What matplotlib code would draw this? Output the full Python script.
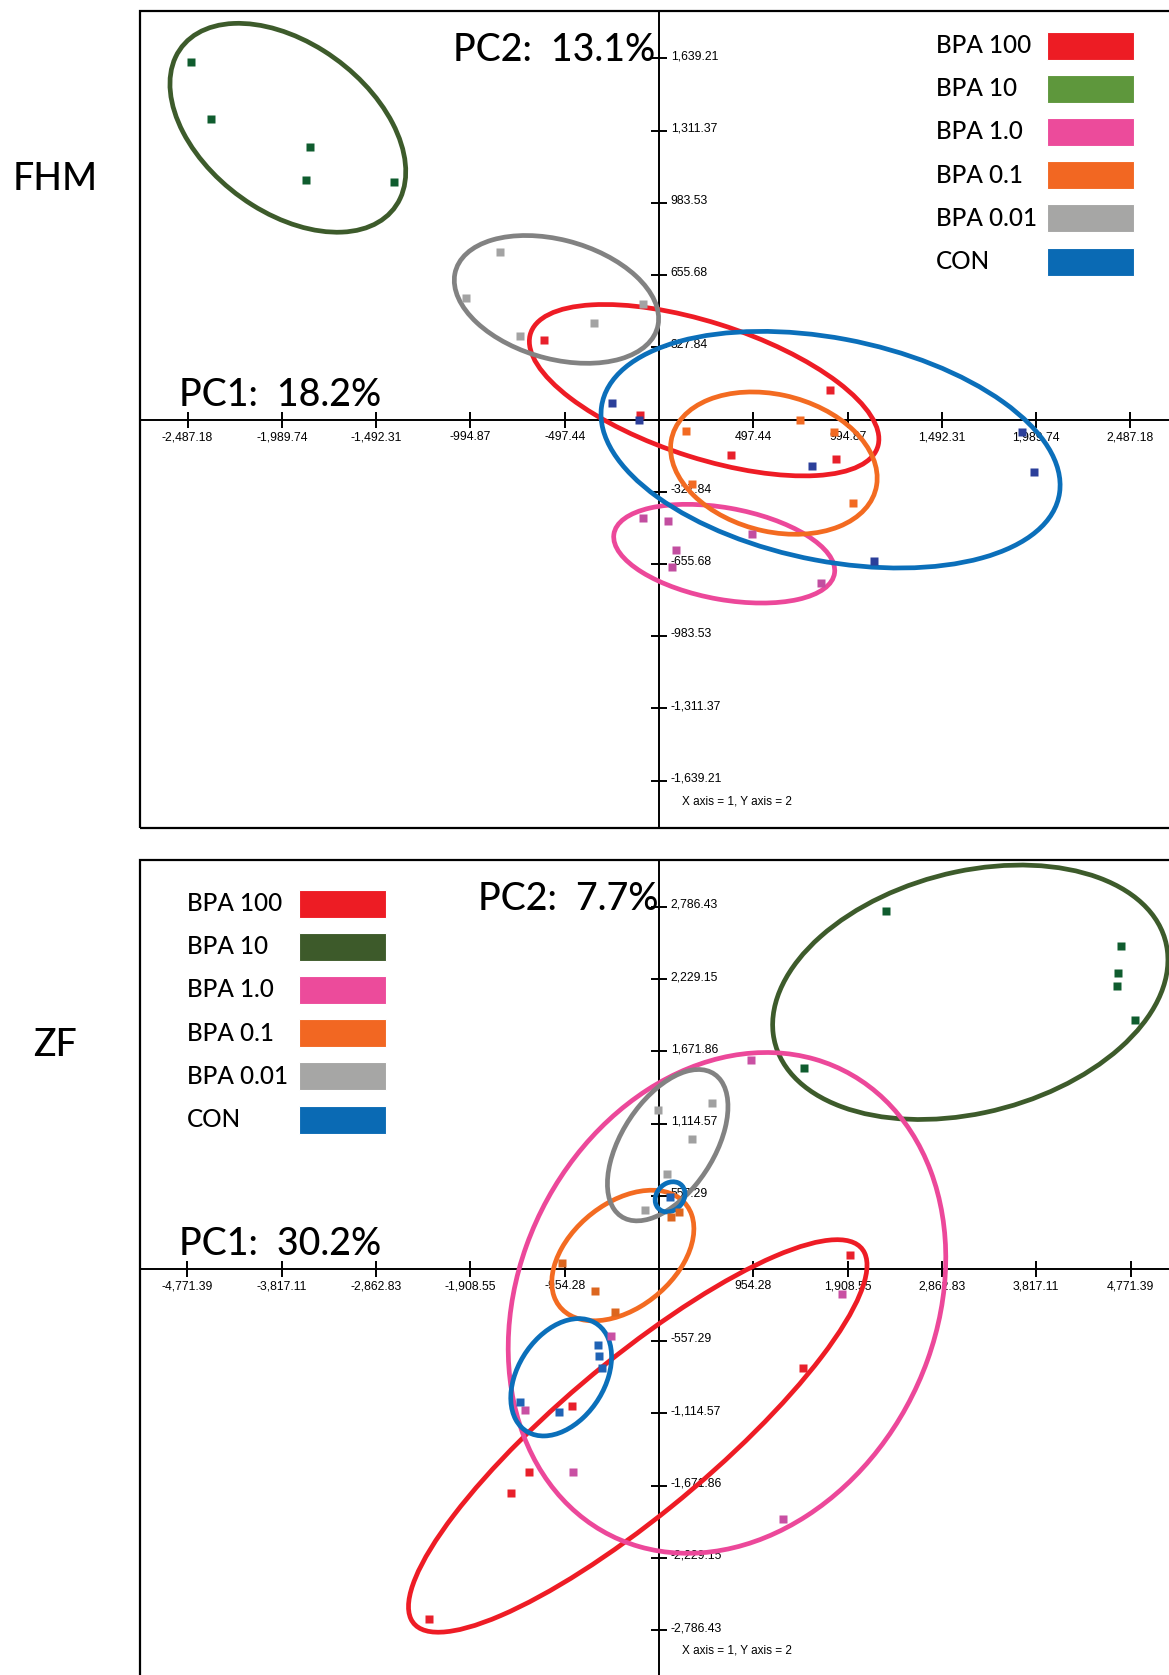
import numpy as np
import matplotlib
matplotlib.use('Agg')
import matplotlib.pyplot as plt
from matplotlib import font_manager
from matplotlib.patches import Ellipse, Rectangle
from matplotlib.transforms import ScaledTranslation


groups = ['BPA 100', 'BPA 10', 'BPA 1.0', 'BPA 0.1', 'BPA 0.01', 'CON']

# FHM scores (PC1, PC2)
fhm_pc1 = {
	'BPA 100': [-607, -98, 900, 382, 932],
	'BPA 10': [-2468, -2365, -1841, -1862, -1396],
	'BPA 1.0': [-82, 49, 489, 92, 70, 855],
	'BPA 0.1': [746, 145, 924, 174, 1022],
	'BPA 0.01': [-840, -1019, -733, -343, -83],
	'CON': [-249, -107, 808, 1916, 1979, 1135],
}
fhm_pc2 = {
	'BPA 100': [360, 21, 135, -159, -180],
	'BPA 10': [1621, 1364, 1238, 1089, 1077],
	'BPA 1.0': [-447, -459, -518, -591, -671, -741],
	'BPA 0.1': [-4, -52, -55, -291, -379],
	'BPA 0.01': [758, 552, 378, 438, 525],
	'CON': [75, 0, -211, -55, -239, -641],
}

# ZF scores (PC1, PC2)
zf_pc1 = {
	'BPA 100': [1934, 1455, -880, -1316, -1500, -2323],
	'BPA 10': [2302, 4679, 4644, 4632, 4813, 1467],
	'BPA 1.0': [930, 1851, -487, -1360, -866, 1259],
	'BPA 0.1': [204, 118, -978, -649, -444],
	'BPA 0.01': [537, -8, 330, 86, -143],
	'CON': [110, -620, -610, -581, -1403, -1017],
}
zf_pc2 = {
	'BPA 100': [107, -767, -1059, -1571, -1730, -2704],
	'BPA 10': [2756, 2481, 2280, 2180, 1916, 1544],
	'BPA 1.0': [1608, -193, -522, -1090, -1571, -1932],
	'BPA 0.1': [437, 393, 40, -172, -334],
	'BPA 0.01': [1276, 1220, 999, 727, 447],
	'CON': [552, -586, -674, -763, -1026, -1103],
}

# group ellipses: centre x, centre y, half-extent x, half-extent y, correlation
fhm_ellipses = {
	'BPA 100': (238, 133, 922, 389, -0.57),
	'BPA 10': (-1958, 1324, 622, 474, -0.42),
	'BPA 1.0': (344, -609, 583, 224, -0.34),
	'BPA 0.1': (606, -198, 545, 323, -0.21),
	'BPA 0.01': (-541, 545, 539, 290, -0.30),
	'CON': (905, -137, 1211, 537, -0.30),
}
zf_ellipses = [
	('BPA 100', (-215, -1290, 2320, 1512, 0.87)),
	('BPA 10', (3150, 2128, 2000, 980, 0.255)),
	('BPA 1.0', (688, -265, 2214, 1929, 0.18)),
	('BPA 0.1', (-366, 100, 719, 503, 0.41)),
	('BPA 0.01', (88, 950, 610, 583, 0.51)),
	('CON', (-990, -838, 510, 452, 0.35)),
	('CON', (112, 552, 151, 116, 0.2)),
]

fhm_xticks = [497.44, 994.87, 1492.31, 1989.74, 2487.18]
fhm_yticks = [327.84, 655.68, 983.53, 1311.37, 1639.21]
zf_xticks = [954.28, 1908.55, 2862.83, 3817.11, 4771.39]
zf_yticks = [557.29, 1114.57, 1671.86, 2229.15, 2786.43]

fhm_var = ('18.2%', '13.1%')
zf_var = ('30.2%', '7.7%')

legend_fhm = ['#ed1c24', '#5e973c', '#ec4b9b', '#f26722', '#a6a6a5', '#0a6ab4']
legend_zf = ['#ed1c24', '#3d5a2a', '#ec4b9b', '#f26722', '#a6a6a5', '#0a6ab4']
ring_colors = {'BPA 100': '#ee1c25', 'BPA 10': '#3d5b2b', 'BPA 1.0': '#ec489a',
	'BPA 0.1': '#f36b21', 'BPA 0.01': '#828282', 'CON': '#0b6fba'}
dot_fhm = {'BPA 100': '#e8202b', 'BPA 10': '#0f5c2e', 'BPA 1.0': '#c24ea0',
	'BPA 0.1': '#f26a22', 'BPA 0.01': '#a3a3a3', 'CON': '#2b3f9a'}
dot_zf = {'BPA 100': '#e8202b', 'BPA 10': '#0f5c2e', 'BPA 1.0': '#c950a3',
	'BPA 0.1': '#dc661f', 'BPA 0.01': '#a0a0a0', 'CON': '#1f63b5'}


installed = {f.name for f in font_manager.fontManager.ttflist}
small_font = 'Liberation Sans Narrow' if 'Liberation Sans Narrow' in installed else 'Liberation Sans'
big_font = 'Lato'
big_weight = 'medium'


def draw_ellipse(ax, params, color):
	cx, cy, hx, hy, rho = params
	cov = np.array([[hx * hx, rho * hx * hy], [rho * hx * hy, hy * hy]])
	vals, vecs = np.linalg.eigh(cov)
	angle = np.degrees(np.arctan2(vecs[1, 1], vecs[0, 1]))
	ax.add_patch(Ellipse((cx, cy), 2 * np.sqrt(vals[1]), 2 * np.sqrt(vals[0]), angle=angle,
		fill=False, edgecolor=color, lw=3.4, zorder=3))


def setup_axes(ax, xt, yt, xmax, ymax):
	ax.set_xlim(-xmax, xmax)
	ax.set_ylim(-ymax, ymax)
	for s in ['left', 'top']:
		ax.spines[s].set_visible(False)
	ax.spines['bottom'].set_position(('data', 0))
	ax.spines['right'].set_position(('data', 0))
	ax.spines['bottom'].set_linewidth(1.4)
	ax.spines['right'].set_linewidth(1.4)
	ax.yaxis.set_ticks_position('right')
	xs = [-v for v in xt[::-1]] + xt
	ys = [-v for v in yt[::-1]] + yt
	ax.set_xticks(xs)
	ax.set_xticklabels(['{:,.2f}'.format(v) for v in xs])
	ax.set_yticks(ys)
	ax.set_yticklabels(['{:,.2f}'.format(v) for v in ys])
	ax.tick_params(direction='inout', length=11, width=1.4, pad=3, labelsize=8.8)
	for lab in ax.get_xticklabels() + ax.get_yticklabels():
		lab.set_family(small_font)
	# y labels sit a little above their tick
	lift = ScaledTranslation(0, 3.5 / 100, ax.figure.dpi_scale_trans)
	for lab in ax.get_yticklabels():
		lab.set_transform(lab.get_transform() + lift)
	ax.add_patch(Rectangle((0, 0), 1, 1, transform=ax.transAxes, fill=False,
		lw=1.6, edgecolor='black', clip_on=False, zorder=5))
	ax.text(0.5217, 0.033, 'X axis = 1, Y axis = 2', transform=ax.transAxes,
		fontsize=8.5, family=small_font, va='center', ha='left')


def draw_panel(ax, pc1, pc2, ellipses, dots):
	for name, params in ellipses:
		draw_ellipse(ax, params, ring_colors[name])
	for g in groups:
		ax.plot(pc1[g], pc2[g], 's', ms=5.6, color=dots[g], mec='none', zorder=4, clip_on=False)


def draw_legend(ax, colors, x_text, x_box, rows):
	for g, c, y in zip(groups, colors, rows):
		ax.text(x_text, y, g, transform=ax.transAxes, family=big_font, weight=big_weight,
			fontsize=17.5, va='center', ha='left')
		ax.add_patch(Rectangle((x_box, y - 0.0172), 0.0834, 0.0344, transform=ax.transAxes,
			facecolor=c, edgecolor='white', lw=0.8, zorder=6))


def big_text(ax, x, y, s, ha):
	ax.text(x, y, s, transform=ax.transAxes, family=big_font, weight=big_weight,
		fontsize=27, ha=ha, va='baseline', zorder=7)


fig = plt.figure(figsize=(11.69, 16.75), dpi=100)

ax1 = fig.add_axes([140 / 1169, 1 - 828 / 1675, 1038 / 1169, 817 / 1675])
setup_axes(ax1, fhm_xticks, fhm_yticks, 2738, 1854)
draw_panel(ax1, fhm_pc1, fhm_pc2, list(fhm_ellipses.items()), dot_fhm)
draw_legend(ax1, legend_fhm, 0.7669, 0.8738, [0.9575, 0.9049, 0.8519, 0.7988, 0.7462, 0.6930])
big_text(ax1, 0.4961, 0.9388, 'PC2:  ' + fhm_var[1], 'right')
big_text(ax1, 0.0376, 0.5165, 'PC1:  ' + fhm_var[0], 'left')

ax2 = fig.add_axes([140 / 1169, 1 - 1677 / 1675, 1038 / 1169, 817 / 1675])
setup_axes(ax2, zf_xticks, zf_yticks, 5252, 3147)
draw_panel(ax2, zf_pc1, zf_pc2, zf_ellipses, dot_zf)
draw_legend(ax2, legend_zf, 0.0453, 0.1532, [0.9465, 0.8939, 0.8409, 0.7879, 0.7353, 0.6821])
big_text(ax2, 0.4996, 0.9388, 'PC2:  ' + zf_var[1], 'right')
big_text(ax2, 0.0376, 0.5165, 'PC1:  ' + zf_var[0], 'left')

fig.text(12.7 / 1169, 1 - 190 / 1675, 'FHM', family=big_font, weight=big_weight,
	fontsize=27, va='baseline')
fig.text(32.7 / 1169, 1 - 1055.7 / 1675, 'ZF', family=big_font, weight=big_weight,
	fontsize=27, va='baseline')

fig.savefig('out.png', dpi=100)
